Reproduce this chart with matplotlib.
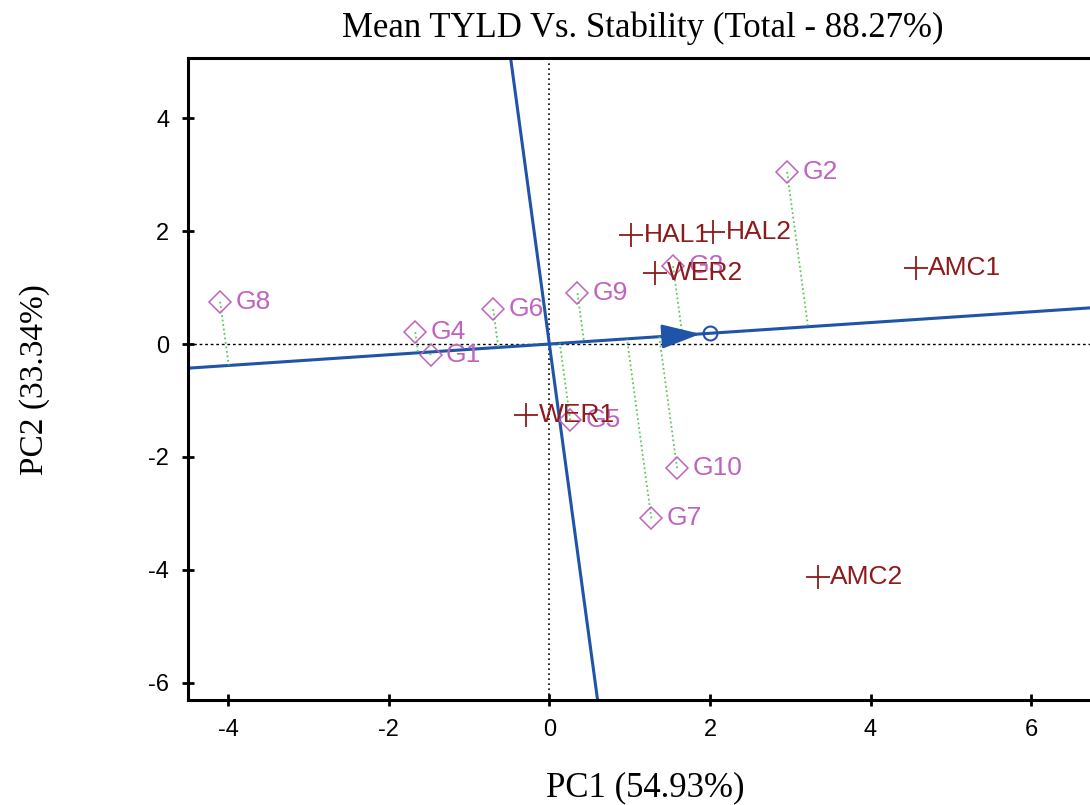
import numpy as np
import matplotlib.pyplot as plt
from matplotlib.ticker import FuncFormatter

# genotype scores (PC1, PC2)
genotipos = ["G1", "G2", "G3", "G4", "G5", "G6", "G7", "G8", "G9", "G10"]
gen_pc1 = [-1.48, 2.96, 1.54, -1.67, 0.26, -0.70, 1.27, -4.10, 0.35, 1.59]
gen_pc2 = [-0.20, 3.05, 1.38, 0.21, -1.35, 0.62, -3.09, 0.75, 0.90, -2.20]

# environment scores (PC1, PC2)
ambientes = ["HAL1", "HAL2", "WER2", "AMC1", "WER1", "AMC2"]
amb_pc1 = [1.02, 2.04, 1.31, 4.56, -0.29, 3.34]
amb_pc2 = [1.93, 1.99, 1.26, 1.35, -1.26, -4.13]

titulo = "Mean TYLD Vs. Stability (Total - 88.27%)"
etiqueta_x = "PC1 (54.93%)"
etiqueta_y = "PC2 (33.34%)"

col_gen = "#C062C0"
col_amb = "#8E1B1B"
col_eje = "#1F54A8"
col_proy = "#5CC85C"

x_min, x_max = -4.5, 7.0
y_min, y_max = -6.31, 5.07

fig = plt.figure(figsize=(10.9, 8.05), dpi=100)
ax = fig.add_axes([188 / 1090, 105 / 805, (11.5 * 80.3) / 1090, 642 / 805])
ax.set_xlim(x_min, x_max)
ax.set_ylim(y_min, y_max)

# lineas de referencia
ax.axvline(0, color="black", linestyle=(0, (1, 2)), lw=1.2, zorder=1)
ax.axhline(0, color="black", linestyle=(0, (2, 2)), lw=1.0, zorder=1)

# eje del ambiente promedio
mx = np.mean(amb_pc1)
my = np.mean(amb_pc2)
d = np.array([mx, my]) / np.hypot(mx, my)
t = np.linspace(-20, 20, 2)
ax.plot(t * d[0], t * d[1], color=col_eje, lw=2.2, zorder=2)
ax.plot(-t * d[1], t * d[0], color=col_eje, lw=2.2, zorder=2)
ax.annotate("", xy=(mx - 0.08 * d[0], my - 0.08 * d[1]),
            xytext=(mx - 0.6 * d[0], my - 0.6 * d[1]),
            arrowprops=dict(arrowstyle="-|>,head_length=2.4,head_width=0.75",
                            color=col_eje, lw=2), zorder=3)
ax.plot(mx, my, "o", mfc="none", mec=col_eje, ms=10, mew=1.5, zorder=4)

# proyecciones de los genotipos sobre el eje
for gx, gy in zip(gen_pc1, gen_pc2):
    p = gx * d[0] + gy * d[1]
    ax.plot([gx, p * d[0]], [gy, p * d[1]], color=col_proy,
            linestyle=(0, (1, 1.5)), lw=1.3, zorder=2)

ax.plot(gen_pc1, gen_pc2, "D", mfc="none", mec=col_gen, ms=11, mew=1.1, zorder=5)
for nombre, gx, gy in zip(genotipos, gen_pc1, gen_pc2):
    ax.annotate(nombre, (gx, gy), xytext=(11, 0), textcoords="offset points",
                va="center", ha="left", color=col_gen, fontsize=19,
                family="Liberation Sans", zorder=6)

ax.plot(amb_pc1, amb_pc2, "+", color=col_amb, ms=17, mew=1.3, zorder=5)
for nombre, ex, ey in zip(ambientes, amb_pc1, amb_pc2):
    ax.annotate(nombre, (ex, ey), xytext=(9, 0), textcoords="offset points",
                va="center", ha="left", color=col_amb, fontsize=19,
                family="Liberation Sans", zorder=6)

ax.set_xticks([-4, -2, 0, 2, 4, 6])
ax.set_yticks([-6, -4, -2, 0, 2, 4])
fmt = FuncFormatter(lambda v, pos: "%d" % v)
ax.xaxis.set_major_formatter(fmt)
ax.yaxis.set_major_formatter(fmt)
ax.tick_params(direction="inout", length=9, width=2, labelsize=17, pad=9)
for lab in ax.get_xticklabels() + ax.get_yticklabels():
    lab.set_family("Liberation Sans")
for s in ["left", "bottom", "top"]:
    ax.spines[s].set_linewidth(2.2)
ax.spines["right"].set_visible(False)

fig.text(643 / 1090, 1 - 28 / 805, titulo, ha="center", va="center",
         fontsize=25, family="Liberation Serif")
fig.text(645 / 1090, 1 - 788 / 805, etiqueta_x, ha="center", va="center",
         fontsize=25, family="Liberation Serif")
fig.text(35 / 1090, 1 - 380 / 805, etiqueta_y, ha="center", va="center",
         rotation=90, fontsize=24, family="Liberation Serif")

fig.savefig("out.png", dpi=100)
